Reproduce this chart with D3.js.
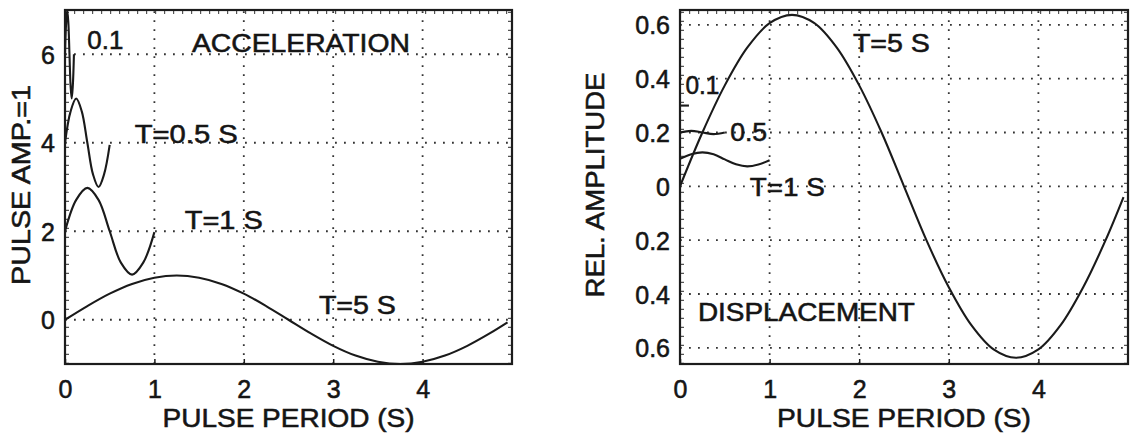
<!DOCTYPE html>
<html>
<head>
<meta charset="utf-8">
<script src="https://cdn.jsdelivr.net/npm/d3@7/dist/d3.min.js"></script>
<style>
  html, body { margin: 0; padding: 0; background: #fff; }
  svg { display: block; }
  text { font-family: "Liberation Sans", Arial, Helvetica, sans-serif; fill: #151515;
         stroke: #151515; stroke-width: 0.55px; }
</style>
</head>
<body>
<svg id="chart" width="1132" height="440"></svg>
<script>
// ---- Shared axis values ----
const xTicks = [0, 1, 2, 3, 4];
const accYTicks = [0, 2, 4, 6];
const dispYTicks = [-0.6, -0.4, -0.2, 0, 0.2, 0.4, 0.6];

// ---- Acceleration response (pulse amplitude = 1), offset per pulse period ----
const accT01Time = [0, 0.0125, 0.025, 0.0375, 0.05, 0.0625, 0.075, 0.0875, 0.1];
const accT01 = [6, 6.71, 7, 6.71, 6, 5.29, 5, 5.29, 6];

const accT05Time = [0, 0.0625, 0.125, 0.1875, 0.25, 0.3125, 0.375, 0.4375, 0.5];
const accT05 = [4, 4.71, 5, 4.71, 4, 3.29, 3, 3.29, 3.95];

const accT1Time = [0, 0.125, 0.25, 0.375, 0.5, 0.625, 0.75, 0.875, 1];
const accT1 = [2, 2.71, 2.98, 2.71, 2, 1.29, 1.02, 1.29, 1.98];

const accT5Time = [0, 0.25, 0.5, 0.75, 1, 1.25, 1.5, 1.75, 2, 2.25, 2.5,
                   2.75, 3, 3.25, 3.5, 3.75, 4, 4.25, 4.5, 4.75, 4.95];
const accT5 = [0, 0.31, 0.59, 0.81, 0.95, 1, 0.95, 0.81, 0.59, 0.31, 0,
               -0.31, -0.59, -0.81, -0.95, -1, -0.95, -0.81, -0.59, -0.31, -0.06];

// ---- Displacement response (relative amplitude) ----
const dispT01Time = [0, 0.05, 0.1];
const dispT01 = [0.3, 0.3, 0.3];

const dispT05Time = [0, 0.125, 0.25, 0.375, 0.5];
const dispT05 = [0.2, 0.206, 0.2, 0.194, 0.2];

const dispT1Time = [0, 0.125, 0.25, 0.375, 0.5, 0.625, 0.75, 0.875, 1];
const dispT1 = [0.102, 0.119, 0.126, 0.119, 0.1, 0.082, 0.074, 0.081, 0.097];

const dispT5Time = [0, 0.25, 0.5, 0.75, 1, 1.25, 1.5, 1.75, 2, 2.25, 2.5,
                    2.75, 3, 3.25, 3.5, 3.75, 4, 4.25, 4.5, 4.75, 4.95];
const dispT5 = [0, 0.2, 0.375, 0.515, 0.606, 0.637, 0.606, 0.515, 0.375, 0.2, 0,
                -0.2, -0.375, -0.515, -0.606, -0.637, -0.606, -0.515, -0.375, -0.2, -0.04];

const zip = (xs, ys) => xs.map((x, i) => [x, ys[i]]);

const svg = d3.select("#chart");
const FONT = 25;

function panel(opts) {
  const { left, right, top, bottom, xDomain, yDomain, yTicks, yFmt, series, labels, xLabel, yLabel } = opts;
  const x = d3.scaleLinear().domain(xDomain).range([left, right]);
  const y = d3.scaleLinear().domain(yDomain).range([bottom, top]);
  const g = svg.append("g");

  // dotted grid
  const grid = g.append("g").attr("stroke", "#333").attr("stroke-width", 1.8)
    .attr("stroke-dasharray", "1.8,7.2").attr("fill", "none");
  xTicks.filter(t => t > xDomain[0]).forEach(t => {
    grid.append("line").attr("x1", x(t)).attr("x2", x(t)).attr("y1", bottom).attr("y2", top);
  });
  yTicks.forEach(t => {
    grid.append("line").attr("x1", left).attr("x2", right).attr("y1", y(t)).attr("y2", y(t));
  });

  // small inner edge marks along the frame
  const marks = g.append("g").attr("stroke", "#555").attr("stroke-width", 3)
    .attr("stroke-dasharray", "1.2,7.8").attr("fill", "none");
  marks.append("line").attr("x1", left + 2.5).attr("x2", left + 2.5).attr("y1", bottom).attr("y2", top);
  marks.append("line").attr("x1", right - 2.5).attr("x2", right - 2.5).attr("y1", bottom).attr("y2", top);
  marks.append("line").attr("x1", left).attr("x2", right).attr("y1", top + 2.5).attr("y2", top + 2.5);

  // curves
  const line = d3.line().x(d => x(d[0])).y(d => y(d[1])).curve(d3.curveCatmullRom.alpha(0.5));
  series.forEach(s => {
    g.append("path").attr("d", line(s)).attr("fill", "none")
      .attr("stroke", "#1a1a1a").attr("stroke-width", 2.1).attr("stroke-linejoin", "round");
  });

  // frame
  g.append("rect").attr("x", left).attr("y", top).attr("width", right - left).attr("height", bottom - top)
    .attr("fill", "none").attr("stroke", "#1c1c1c").attr("stroke-width", 2.2);

  // axes via d3 axis generators
  const xAxis = d3.axisBottom(x).tickValues(xTicks).tickSize(5).tickPadding(12).tickFormat(d3.format("d"));
  const xa = g.append("g").attr("transform", `translate(0,${bottom})`).call(xAxis);
  xa.select(".domain").remove();
  xa.selectAll(".tick line").attr("y1", -5).attr("y2", 0).attr("stroke", "#1c1c1c").attr("stroke-width", 1.5);
  xa.selectAll(".tick text").attr("font-size", FONT).attr("font-family", null).attr("fill", null)
    .attr("dy", null).attr("y", 34);

  const yAxis = d3.axisLeft(y).tickValues(yTicks).tickSize(0).tickPadding(10).tickFormat(yFmt);
  const ya = g.append("g").attr("transform", `translate(${left},0)`).call(yAxis);
  ya.select(".domain").remove();
  ya.selectAll(".tick text").attr("font-size", FONT).attr("font-family", null).attr("fill", null)
    .attr("dy", "0.36em");

  // axis titles
  g.append("text").attr("x", (left + right) / 2).attr("y", 427).attr("text-anchor", "middle")
    .attr("font-size", FONT + 1).attr("textLength", xLabel.len).attr("lengthAdjust", "spacingAndGlyphs")
    .text(xLabel.text);
  g.append("text").attr("transform", `translate(${yLabel.x},${(top + bottom) / 2 - 2}) rotate(-90)`)
    .attr("text-anchor", "middle").attr("font-size", FONT + 1)
    .attr("textLength", yLabel.len).attr("lengthAdjust", "spacingAndGlyphs").text(yLabel.text);

  // in-plot annotations, anchored in data units
  labels.forEach(l => {
    g.append("text").attr("x", x(l.x)).attr("y", y(l.y)).attr("font-size", FONT)
      .attr("textLength", l.len).attr("lengthAdjust", "spacingAndGlyphs").text(l.text);
  });
}

panel({
  left: 65, right: 512, top: 10, bottom: 364,
  xDomain: [0, 5], yDomain: [-1, 7], yTicks: accYTicks, yFmt: d3.format("d"),
  series: [zip(accT5Time, accT5), zip(accT1Time, accT1), zip(accT05Time, accT05), zip(accT01Time, accT01)],
  labels: [
    { text: "0.1", x: 0.25, y: 6.11, len: 36 },
    { text: "ACCELERATION", x: 1.42, y: 6.05, len: 218 },
    { text: "T=0.5 S", x: 0.78, y: 3.99, len: 103 },
    { text: "T=1 S", x: 1.34, y: 2.05, len: 78 },
    { text: "T=5 S", x: 2.84, y: 0.13, len: 77 }
  ],
  xLabel: { text: "PULSE PERIOD (S)", len: 252 },
  yLabel: { text: "PULSE AMP.=1", x: 30, len: 200 }
});

panel({
  left: 680, right: 1128, top: 10, bottom: 364,
  xDomain: [0, 5], yDomain: [-0.66, 0.655], yTicks: dispYTicks,
  yFmt: d => (d === 0 ? "0" : d3.format(".1f")(Math.abs(d))),
  series: [zip(dispT5Time, dispT5), zip(dispT1Time, dispT1), zip(dispT05Time, dispT05), zip(dispT01Time, dispT01)],
  labels: [
    { text: "T=5 S", x: 1.93, y: 0.5, len: 77 },
    { text: "0.1", x: 0.06, y: 0.344, len: 34 },
    { text: "0.5", x: 0.56, y: 0.167, len: 37 },
    { text: "T=1 S", x: 0.78, y: -0.037, len: 75 },
    { text: "DISPLACEMENT", x: 0.2, y: -0.5, len: 217 }
  ],
  xLabel: { text: "PULSE PERIOD (S)", len: 254 },
  yLabel: { text: "REL. AMPLITUDE", x: 604, len: 225 }
});
</script>
</body>
</html>
